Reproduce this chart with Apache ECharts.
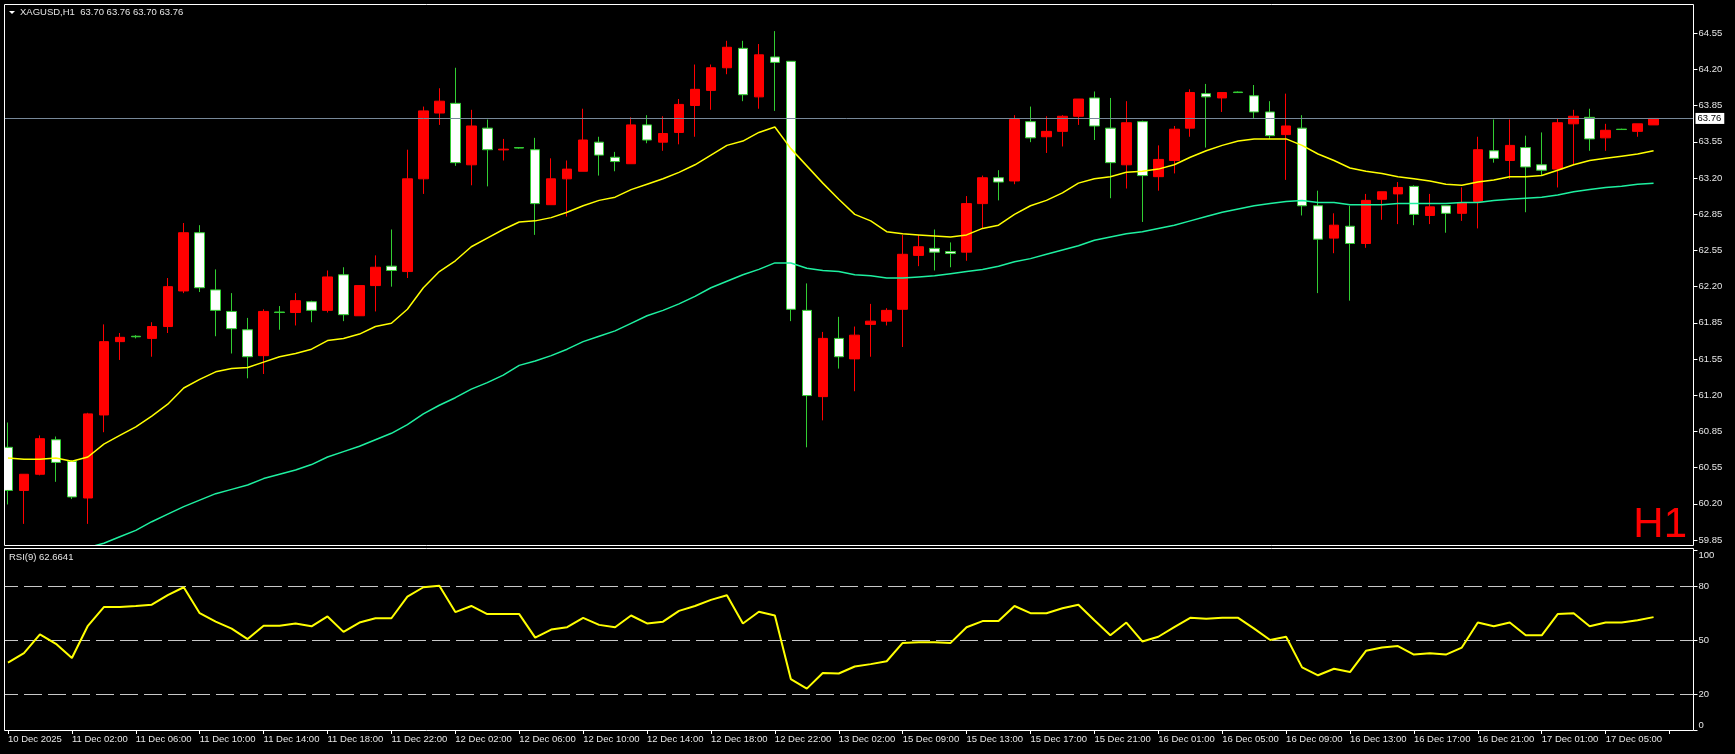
<!DOCTYPE html>
<html><head><meta charset="utf-8">
<script src="https://cdn.jsdelivr.net/npm/echarts@6/dist/echarts.min.js"></script>
<style>html,body{margin:0;padding:0;background:#000;overflow:hidden}#c{width:1735px;height:754px;}</style>
</head><body><div id="c"></div>
<script>
const symbolTitle = 'XAGUSD,H1  63.70 63.76 63.70 63.76';
const rsiTitle = 'RSI(9) 62.6641';
const timeLabels = ['10 Dec 2025','11 Dec 02:00','11 Dec 06:00','11 Dec 10:00','11 Dec 14:00','11 Dec 18:00','11 Dec 22:00','12 Dec 02:00','12 Dec 06:00','12 Dec 10:00','12 Dec 14:00','12 Dec 18:00','12 Dec 22:00','13 Dec 02:00','15 Dec 09:00','15 Dec 13:00','15 Dec 17:00','15 Dec 21:00','16 Dec 01:00','16 Dec 05:00','16 Dec 09:00','16 Dec 13:00','16 Dec 17:00','16 Dec 21:00','17 Dec 01:00','17 Dec 05:00'];
const opens = [60.71,60.31,60.46,60.78,60.58,60.24,61.01,61.69,61.74,61.72,
61.83,62.16,62.70,62.17,61.97,61.80,61.56,61.965,61.96,62.06,
61.98,62.31,61.93,62.21,62.39,62.34,63.20,63.81,63.90,63.33,
63.67,63.468,63.49,63.47,62.96,63.20,63.27,63.54,63.40,63.34,
63.70,63.54,63.63,63.88,64.02,64.23,64.41,63.96,64.33,64.29,
61.98,61.18,61.72,61.53,61.85,61.88,61.99,62.49,62.555,62.525,
62.52,62.97,63.21,63.18,63.73,63.59,63.64,63.78,63.95,63.67,
63.33,63.73,63.22,63.37,63.67,63.99,63.95,64.005,63.97,63.82,
63.61,63.67,62.95,62.65,62.76,62.60,63.01,63.06,63.13,62.86,
62.95,62.88,62.99,63.46,63.37,63.49,63.33,63.29,63.71,63.77,
63.58,63.66,63.64,63.70];
const highs = [60.94,60.46,60.82,60.81,60.59,61.03,61.85,61.77,61.75,61.87,
62.28,62.79,62.77,62.36,62.14,61.91,61.99,62.02,62.14,62.07,
62.35,62.38,62.21,62.49,62.73,63.47,63.87,64.04,64.23,63.84,
63.75,63.57,63.495,63.58,63.39,63.37,63.85,63.59,63.45,63.77,
63.79,63.78,63.94,64.26,64.26,64.48,64.48,64.45,64.57,64.29,
62.23,61.78,61.92,61.83,62.04,62.00,62.68,62.68,62.73,62.61,
63.04,63.23,63.28,63.79,63.87,63.78,63.79,63.94,64.01,63.95,
63.92,63.74,63.51,63.69,64.03,64.08,64.00,64.01,64.07,63.92,
63.99,63.79,63.09,62.88,62.95,63.06,63.08,63.17,63.14,63.06,
62.95,63.12,63.59,63.75,63.75,63.60,63.63,63.76,63.84,63.85,
63.71,63.665,63.71,63.76];
const lows = [60.18,60.00,60.45,60.39,60.23,60.00,60.85,61.52,61.72,61.55,
61.77,62.14,62.15,61.74,61.58,61.35,61.39,61.80,61.84,61.87,
61.96,61.88,61.93,61.97,62.20,62.28,63.06,63.70,63.32,63.14,
63.13,63.37,63.48,62.68,62.96,62.85,63.27,63.23,63.27,63.34,
63.53,63.46,63.52,63.59,63.84,64.17,63.92,63.85,63.83,61.88,
60.71,60.96,61.44,61.23,61.55,61.84,61.64,62.39,62.35,62.38,
62.44,62.74,63.00,63.15,63.54,63.44,63.50,63.70,63.56,63.02,
63.11,62.80,63.09,63.25,63.59,63.49,63.82,64.00,63.76,63.57,
63.19,62.86,62.14,62.51,62.07,62.56,62.82,62.78,62.77,62.78,
62.70,62.81,62.74,63.35,63.20,62.89,63.23,63.12,63.33,63.46,
63.46,63.655,63.59,63.70];
const closes = [60.31,60.46,60.79,60.57,60.25,61.02,61.69,61.73,61.735,61.83,
62.20,62.70,62.19,61.98,61.81,61.55,61.97,61.96,62.07,61.98,
62.29,61.94,62.21,62.38,62.35,63.20,63.83,63.92,63.35,63.69,
63.47,63.475,63.485,62.97,63.20,63.29,63.56,63.42,63.36,63.70,
63.56,63.62,63.89,64.03,64.23,64.42,63.98,64.35,64.28,61.99,
61.19,61.72,61.55,61.75,61.88,61.98,62.50,62.57,62.52,62.507,
62.97,63.21,63.17,63.75,63.58,63.64,63.78,63.94,63.69,63.35,
63.72,63.23,63.38,63.66,64.00,63.96,64.00,64.00,63.82,63.60,
63.69,62.95,62.64,62.77,62.60,63.00,63.08,63.12,62.87,62.94,
62.88,62.98,63.47,63.39,63.51,63.31,63.28,63.72,63.78,63.57,
63.65,63.657,63.71,63.76];
const maFast = [60.61,60.60,60.60,60.61,60.58,60.62,60.74,60.82,60.90,61.00,
61.11,61.26,61.34,61.41,61.44,61.45,61.50,61.55,61.58,61.62,
61.70,61.72,61.76,61.83,61.86,61.99,62.19,62.34,62.44,62.57,
62.65,62.73,62.80,62.81,62.84,62.89,62.95,63.00,63.03,63.10,
63.15,63.20,63.26,63.33,63.42,63.51,63.55,63.63,63.68,63.48,
63.32,63.16,63.01,62.87,62.81,62.71,62.69,62.68,62.67,62.66,
62.68,62.74,62.77,62.87,62.95,63.00,63.07,63.16,63.20,63.22,
63.26,63.27,63.29,63.33,63.40,63.46,63.51,63.55,63.57,63.57,
63.57,63.51,63.43,63.37,63.30,63.27,63.25,63.22,63.20,63.18,
63.15,63.14,63.17,63.19,63.22,63.22,63.23,63.28,63.33,63.37,
63.39,63.41,63.43,63.46];
const maSlow = [59.50,59.56,59.62,59.68,59.73,59.78,59.82,59.88,59.94,60.02,
60.09,60.16,60.22,60.28,60.32,60.36,60.42,60.46,60.50,60.55,
60.62,60.67,60.72,60.78,60.84,60.92,61.02,61.10,61.17,61.25,
61.31,61.38,61.47,61.51,61.56,61.62,61.69,61.74,61.79,61.86,
61.93,61.98,62.04,62.11,62.19,62.25,62.31,62.36,62.42,62.42,
62.37,62.35,62.34,62.31,62.30,62.28,62.28,62.29,62.30,62.32,
62.34,62.36,62.39,62.43,62.46,62.50,62.54,62.58,62.63,62.66,
62.69,62.71,62.74,62.77,62.81,62.85,62.89,62.92,62.95,62.97,
62.99,63.00,62.98,62.98,62.96,62.96,62.96,62.97,62.97,62.97,
62.97,62.98,62.98,63.00,63.01,63.02,63.03,63.05,63.08,63.10,
63.12,63.13,63.15,63.16];
const rsi9 = [37.4,42.7,53.1,47.9,40.0,57.9,68.3,68.3,68.9,69.6,
74.9,79.3,64.9,60.2,56.3,50.5,57.9,57.9,59.2,57.6,
63.1,54.5,59.7,62.1,62.1,74.1,79.3,80.1,65.5,68.9,
64.4,64.4,64.4,51.3,55.8,57.1,62.3,58.4,57.1,63.6,
59.2,60.2,66.2,68.9,72.3,74.9,59.2,65.7,63.6,28.3,
23.0,31.7,31.4,35.3,36.6,38.2,48.4,48.7,48.7,48.4,
57.1,60.5,60.5,68.9,64.9,64.9,67.6,69.6,61.0,52.6,
59.7,49.2,51.8,57.1,62.3,61.8,62.3,62.3,56.3,50.0,
51.8,34.8,30.4,34.0,32.2,44.0,45.8,46.6,41.9,42.7,
41.9,45.8,59.7,57.6,59.7,52.6,52.6,64.4,64.9,57.6,
59.7,59.7,61.0,62.7];
const priceTickLabels = ['59.85','60.20','60.55','60.85','61.20','61.55','61.85','62.20','62.55','62.85','63.20','63.55','63.85','64.20','64.55'];
const rsiTickValues = [0,20,50,80,100];
const rsiLevels = [80,50,20];
const lastPrice = 63.76;

const FONT = 'Liberation Sans';
const FS = 9.5;
const TXT = '#e6e6e6';
const nBars = opens.length;
const nSlots = nBars + 2;
const cats = Array.from({length:nSlots}, (_,i)=>String(i));
const candles = opens.map((o,i)=>[o, closes[i], lows[i], highs[i]]);
const pMin = parseFloat(priceTickLabels[0]);
const pStep = (parseFloat(priceTickLabels[priceTickLabels.length-1]) - pMin)/(priceTickLabels.length-1);
const priceTickValues = priceTickLabels.map((_,k)=>pMin + k*pStep);

const chart = echarts.init(document.getElementById('c'), null, {renderer:'canvas'});
chart.setOption({
  backgroundColor:'#000',
  animation:false,
  title:[
    {text:symbolTitle, left:20, top:7, padding:0, textStyle:{color:TXT, fontFamily:FONT, fontSize:FS, fontWeight:'normal'}},
    {text:rsiTitle, left:9, top:552, padding:0, textStyle:{color:TXT, fontFamily:FONT, fontSize:FS, fontWeight:'normal'}}
  ],
  grid:[
    {left:-2.5, top:5, width:16*nSlots, height:540},
    {left:-2.5, top:550, width:16*nSlots, height:180}
  ],
  xAxis:[
    {type:'category', gridIndex:0, data:cats, boundaryGap:true, show:false},
    {type:'category', gridIndex:1, data:cats, boundaryGap:true,
     axisLine:{show:false},
     axisTick:{show:true, alignWithLabel:true, interval:3, length:4, lineStyle:{color:'#fff'}},
     axisLabel:{interval:3, align:'left', margin:4, color:TXT, fontFamily:FONT, fontSize:FS,
       formatter:(v,idx)=>timeLabels[idx/4] || ''}}
  ],
  yAxis:[
    {type:'value', gridIndex:0, position:'right', min:59.804, max:64.812, scale:true,
     splitLine:{show:false}, axisLine:{show:false},
     axisTick:{show:true, length:4, lineStyle:{color:'#fff'}, customValues:priceTickValues},
     axisLabel:{color:TXT, fontFamily:FONT, fontSize:FS, margin:5, customValues:priceTickValues,
       formatter:(v)=>{const k=Math.round((v-pMin)/pStep); return priceTickLabels[k]||'';}}},
    {type:'value', gridIndex:1, position:'right', min:0, max:100,
     splitLine:{show:false}, axisLine:{show:false},
     axisTick:{show:true, length:4, lineStyle:{color:'#fff'}, customValues:rsiTickValues},
     axisLabel:{color:TXT, fontFamily:FONT, fontSize:FS, margin:5, customValues:rsiTickValues,
       verticalAlignMaxLabel:'top', verticalAlignMinLabel:'bottom'}}
  ],
  series:[
    {type:'candlestick', xAxisIndex:0, yAxisIndex:0, data:candles, barWidth:10,
     itemStyle:{color:'#ff0000', color0:'#ffffff', borderColor:'#ff0000', borderColor0:'#32cd32', borderWidth:1},
     markLine:{silent:true, symbol:['none','none'], animation:false,
       data:[{yAxis:lastPrice}],
       lineStyle:{color:'#778899', width:1, type:'solid'},
       label:{show:true, position:'end', distance:2, formatter:lastPrice.toFixed(2), color:'#000', backgroundColor:'#fff',
         padding:[1,3,0,2], fontFamily:FONT, fontSize:FS}}},
    {type:'line', xAxisIndex:0, yAxisIndex:0, data:maFast, symbol:'none', lineStyle:{color:'#ffff00', width:1.5}, z:5},
    {type:'line', xAxisIndex:0, yAxisIndex:0, data:maSlow, symbol:'none', lineStyle:{color:'#1ef0a0', width:1.5}, z:5},
    {type:'line', xAxisIndex:1, yAxisIndex:1, data:rsi9, symbol:'none', lineStyle:{color:'#ffff00', width:2}, z:5,
     markLine:{silent:true, symbol:['none','none'], animation:false, label:{show:false},
       lineStyle:{color:'#c8c8c8', width:1, type:[18,6]},
       data:rsiLevels.map(v=>({yAxis:v}))}}
  ],
  graphic:[
    {type:'rect', z:100, shape:{x:0, y:0, width:4, height:754}, style:{fill:'#000'}},
    {type:'rect', z:101, shape:{x:4.5, y:4.5, width:1689, height:541}, style:{fill:null, stroke:'#fff', lineWidth:1}},
    {type:'rect', z:101, shape:{x:4.5, y:548.5, width:1689, height:182}, style:{fill:null, stroke:'#fff', lineWidth:1}},
    {type:'polygon', z:101, shape:{points:[[9,11],[15,11],[12,14]]}, style:{fill:'#fff'}},
    {type:'text', z:101, x:1687, y:525, style:{text:'H1', fill:'#ff0000', font:'42px "Liberation Sans"', align:'right', verticalAlign:'middle'}}
  ]
});
</script>
</body></html>
